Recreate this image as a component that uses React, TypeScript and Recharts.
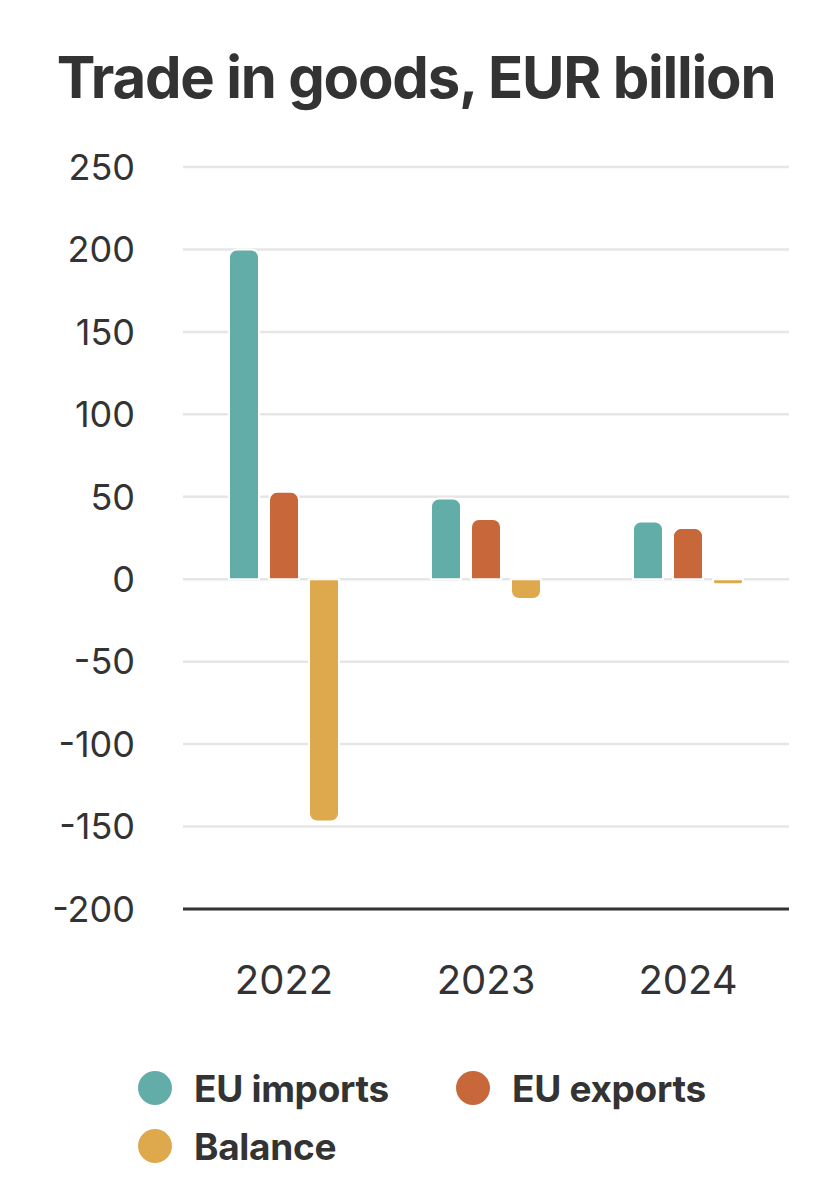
import React from "react";
import { BarChart, Bar, XAxis, YAxis, CartesianGrid, Legend } from "recharts";

const years = ["2022", "2023", "2024"];
const euImports = [200, 49, 35];
const euExports = [53, 36.5, 31];
const balance = [-147, -12, -3];
const yTicks = [-200, -150, -100, -50, 0, 50, 100, 150, 200, 250];

const series = [
  { key: "imports", name: "EU imports", color: "#62ADA8" },
  { key: "exports", name: "EU exports", color: "#C8683A" },
  { key: "balance", name: "Balance", color: "#DDA94C" },
];

const data = years.map((year, i) => ({
  year,
  imports: euImports[i],
  exports: euExports[i],
  balance: balance[i],
}));

const FONT = "Inter, 'Noto Sans', sans-serif";

function LegendBox() {
  const item = (s: (typeof series)[number], left: number, top: number) => (
    <div
      key={s.key}
      style={{
        position: "absolute",
        left,
        top,
        display: "flex",
        alignItems: "center",
        height: 40,
      }}
    >
      <span
        style={{
          width: 34,
          height: 34,
          borderRadius: "50%",
          background: s.color,
          display: "inline-block",
          marginRight: 22,
        }}
      />
      <span
        style={{
          fontFamily: FONT,
          fontWeight: 700,
          fontSize: 37,
          letterSpacing: -0.3,
          color: "#333",
        }}
      >
        {s.name}
      </span>
    </div>
  );
  return (
    <div style={{ position: "relative", width: 840, height: 150 }}>
      {item(series[0], 138, 41)}
      {item(series[1], 456, 41)}
      {item(series[2], 138, 99)}
    </div>
  );
}

export default function App() {
  return (
    <div
      style={{
        position: "absolute",
        left: 0,
        top: 0,
        width: 840,
        height: 1187,
        background: "#fff",
      }}
    >
      <div
        style={{
          position: "absolute",
          top: 48,
          left: 0,
          width: 832,
          textAlign: "center",
          fontFamily: FONT,
          fontWeight: 700,
          fontSize: 58,
          lineHeight: 1,
          letterSpacing: -1.2,
          color: "#333",
        }}
      >
        Trade in goods, EUR billion
      </div>
      <BarChart
        width={840}
        height={1187}
        data={data}
        margin={{ top: 167, right: 51, bottom: 10, left: 0 }}
        barSize={30}
        barGap={10}
      >
        <CartesianGrid vertical={false} stroke="#e6e6e6" strokeWidth={2.5} />
        <XAxis
          dataKey="year"
          height={118}
          axisLine={{ stroke: "#333", strokeWidth: 3 }}
          tickLine={false}
          tickSize={0}
          tickMargin={57}
          tick={{ fill: "#333", fontSize: 40, fontFamily: FONT }}
        />
        <YAxis
          width={183}
          domain={[-200, 250]}
          ticks={yTicks}
          interval={0}
          axisLine={false}
          tickLine={false}
          tickSize={0}
          tickMargin={48}
          tick={{ fill: "#333", fontSize: 36, fontFamily: FONT }}
        />
        <Legend verticalAlign="bottom" content={() => <LegendBox />} />
        {series.map((s) => (
          <Bar
            key={s.key}
            dataKey={s.key}
            name={s.name}
            fill={s.color}
            stroke="#fff"
            strokeWidth={2}
            radius={[8, 8, 0, 0]}
            isAnimationActive={false}
          />
        ))}
      </BarChart>
    </div>
  );
}
